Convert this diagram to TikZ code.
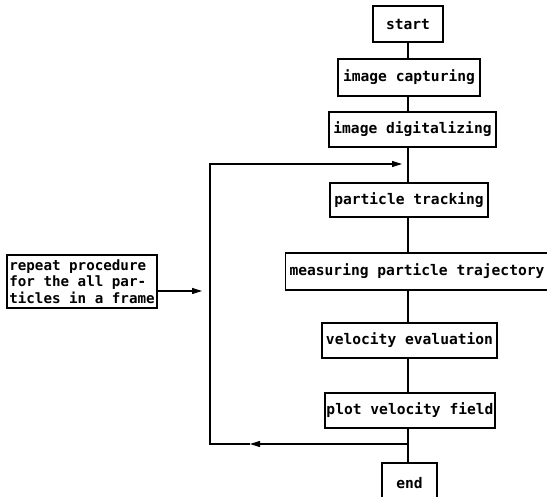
\documentclass[tikz,border=0pt]{standalone}
\usepackage{fontspec}
\setmonofont{DejaVu Sans Mono}
\usetikzlibrary{arrows.meta}
\begin{document}
\begin{tikzpicture}[x=1pt,y=-1pt,
  stepbox/.style={draw,line width=1.1pt,inner sep=0pt,font=\ttfamily\bfseries\fontsize{14.6}{16.5}\selectfont},
  conn/.style={line width=1.1pt},
  arr/.style={line width=1.1pt,-{Triangle[length=10pt,width=6pt]}}]
\useasboundingbox (0,0) rectangle (547,497);
\clip (0,0) rectangle (547,497);
\node[stepbox,minimum width=70pt,minimum height=36pt] (start) at (408,24) {start};
\node[stepbox,minimum width=142pt,minimum height=37pt] (cap) at (409,77.5) {image capturing};
\node[stepbox,minimum width=167pt,minimum height=35pt] (dig) at (412.5,129.5) {image digitalizing};
\node[stepbox,minimum width=158pt,minimum height=34pt] (track) at (409,200) {particle tracking};
\node[stepbox,minimum width=263pt,minimum height=37pt] (meas) at (417,271.5) {measuring particle trajectory};
\node[stepbox,minimum width=175pt,minimum height=35pt] (vel) at (409.5,340.5) {velocity evaluation};
\node[stepbox,minimum width=170pt,minimum height=35pt] (plot) at (410,410.5) {plot velocity field};
\node[stepbox,minimum width=55pt,minimum height=40pt] (end) at (409.5,483) {end};
\node[stepbox,font=\ttfamily\bfseries\fontsize{14.2}{16.5}\selectfont,minimum width=150pt,minimum height=53pt,align=left] (rep) at (82,281.5) {repeat procedure\\for the all par-\\ticles in a frame};
\coordinate (jb) at (408,444);
\coordinate (ta) at (402,164);
\coordinate (lt) at (210,164);
\coordinate (lb) at (210,444);
\coordinate (ba) at (250,444);
\coordinate (ra) at (202,291);
\draw[conn] (start.south -| 408,0) -- (cap.north -| 408,0);
\draw[conn] (cap.south -| 408,0) -- (dig.north -| 408,0);
\draw[conn] (dig.south -| 408,0) -- (track.north -| 408,0);
\draw[conn] (track.south -| 408,0) -- (meas.north -| 408,0);
\draw[conn] (meas.south -| 408,0) -- (vel.north -| 408,0);
\draw[conn] (vel.south -| 408,0) -- (plot.north -| 408,0);
\draw[conn] (plot.south -| 408,0) -- (end.north -| 408,0);
\draw[arr] (jb) -- (ba);
\draw[arr] (ba) -- (lb) -- (lt) -- (ta);
\draw[arr] (rep.east |- ra) -- (ra);
\end{tikzpicture}
\end{document}
